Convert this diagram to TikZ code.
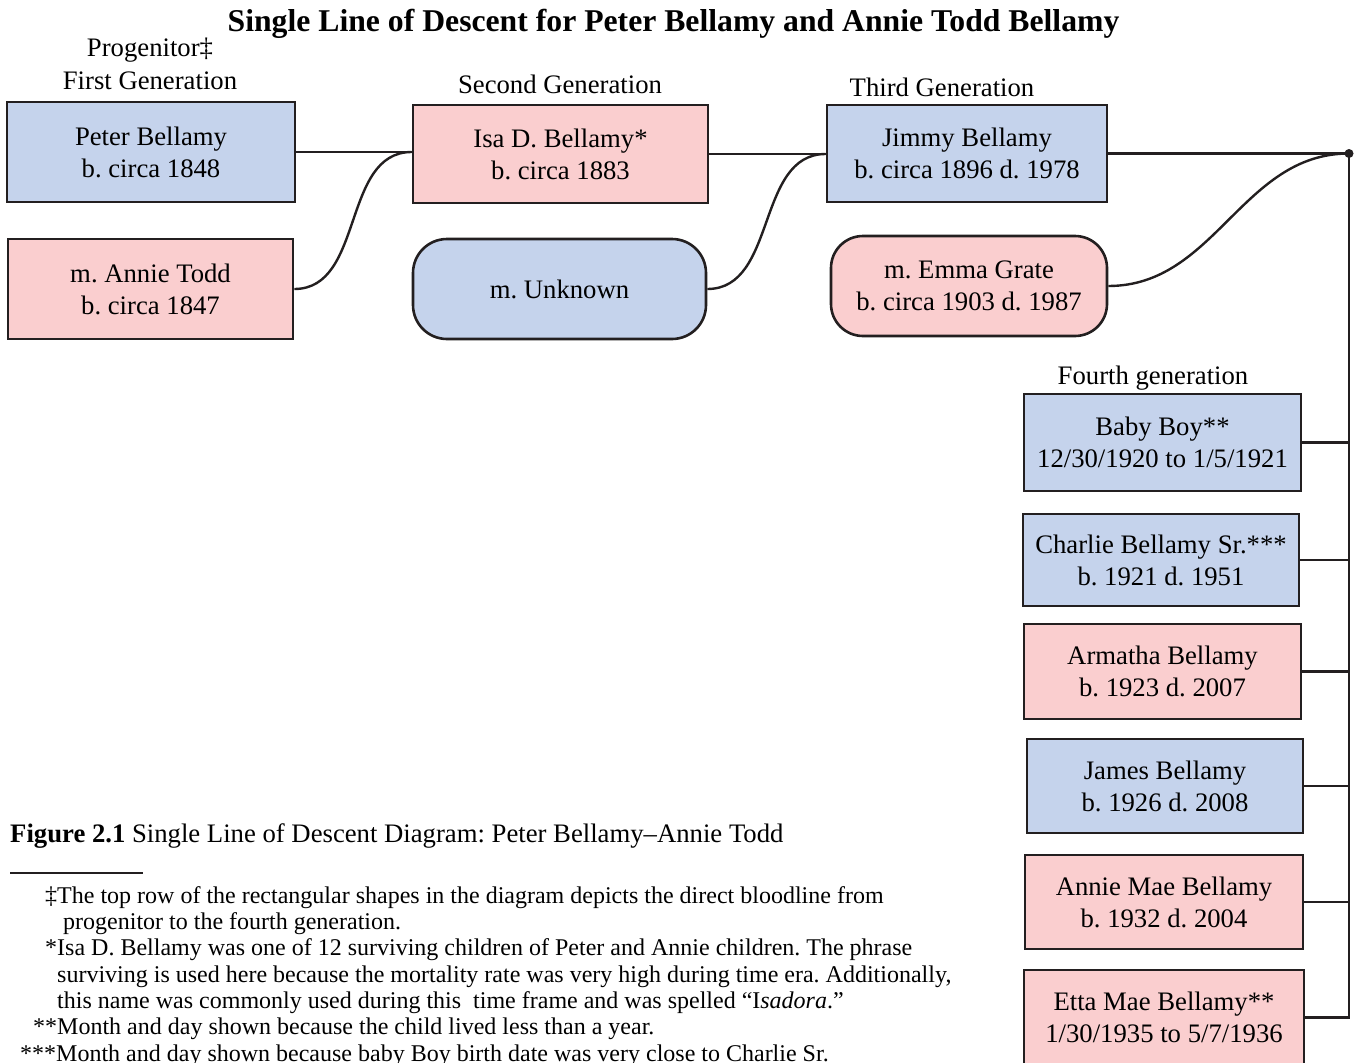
\documentclass[tikz,border=0pt]{standalone}
\usepackage{fontspec}
\setmainfont{Liberation Serif}
\definecolor{boyblue}{RGB}{197,211,236}
\definecolor{girlpink}{RGB}{250,206,207}
\definecolor{linegray}{RGB}{35,31,32}
\frenchspacing

\begin{document}
\begin{tikzpicture}[x=1pt,y=-1pt,
        person/.style={draw=linegray,line width=2.6pt,align=center,inner sep=0pt,font=\fontsize{26.7}{32}\selectfont},
        bluebox/.style={person,fill=boyblue},
        pinkbox/.style={person,fill=girlpink},
        genlabel/.style={inner sep=0pt,font=\fontsize{26.7}{32}\selectfont},
        footline/.style={anchor=base west,inner sep=0pt,font=\fontsize{24}{26}\selectfont},
        link/.style={draw=linegray,line width=2.4pt}]
    \useasboundingbox (0,0) rectangle (1355,1063);
    \node[anchor=base,inner sep=0pt,font=\fontsize{31.7}{36}\selectfont\bfseries] (title) at (673.5,31) {Single Line of Descent for Peter Bellamy and Annie Todd Bellamy};
    % generation labels
    \node[genlabel] (progen) at (150,50) {Progenitor‡};
    \node[genlabel] (gen1) at (150,81) {First Generation};
    \node[genlabel] (gen2) at (560,84) {Second Generation};
    \node[genlabel] (gen3) at (942,87) {Third Generation};
    \node[genlabel] (gen4) at (1153,378) {Fourth generation};
    % first to third generation
    \node[bluebox,minimum width=288,minimum height=100] (peter) at (151,152) {Peter Bellamy\\b. circa 1848};
    \node[pinkbox,minimum width=285,minimum height=100] (annie) at (150.5,289) {m. Annie Todd\\b. circa 1847};
    \node[pinkbox,minimum width=295,minimum height=98] (isa) at (560.5,154) {Isa D. Bellamy*\\b. circa 1883};
    \node[bluebox,rounded corners=34pt,minimum width=293,minimum height=100] (unknown) at (559.5,289) {m. Unknown};
    \node[bluebox,minimum width=280,minimum height=97] (jimmy) at (967,153.5) {Jimmy Bellamy\\b. circa 1896 d. 1978};
    \node[pinkbox,rounded corners=32pt,minimum width=276,minimum height=100] (emma) at (969,286) {m. Emma Grate\\b. circa 1903 d. 1987};
    % fourth generation
    \node[bluebox,minimum width=277,minimum height=97] (baby) at (1162.5,442.5) {Baby Boy**\\12/30/1920 to 1/5/1921};
    \node[bluebox,minimum width=276,minimum height=92] (charlie) at (1161,560) {Charlie Bellamy Sr.***\\b. 1921 d. 1951};
    \node[pinkbox,minimum width=277,minimum height=95] (armatha) at (1162.5,671.5) {Armatha Bellamy\\b. 1923 d. 2007};
    \node[bluebox,minimum width=276,minimum height=94] (james) at (1165,786) {James Bellamy\\b. 1926 d. 2008};
    \node[pinkbox,minimum width=278,minimum height=94] (anniemae) at (1164,902) {Annie Mae Bellamy\\b. 1932 d. 2004};
    \node[pinkbox,minimum width=280,minimum height=95] (etta) at (1164,1017.5) {Etta Mae Bellamy**\\1/30/1935 to 5/7/1936};
    % connectors
    \coordinate (jdot) at (1349,153.5);
    \draw[link] (peter.east) -- (isa.west |- peter.east);
    \draw[link] (annie.east) to[out=0,in=180] (isa.west |- peter.east);
    \draw[link] (isa.east) -- (jimmy.west |- isa.east);
    \draw[link] (unknown.east) to[out=0,in=180] (jimmy.west |- isa.east);
    \draw[link] (jimmy.east) -- (jdot);
    \draw[link] (emma.east) to[out=0,in=180] (jdot);
    \draw[link] (jdot) |- (etta.east);
    \foreach \kid in {baby,charlie,armatha,james,anniemae}
        \draw[link] (\kid.east) -- (\kid.east -| jdot);
    \fill[linegray] (jdot) circle (4.5pt);
    % caption and notes
    \node[anchor=base west,inner sep=0pt,font=\fontsize{26.7}{32}\selectfont] (caption) at (10,842) {\textbf{Figure 2.1} Single Line of Descent Diagram: Peter Bellamy–Annie Todd};
    \draw[linegray,line width=2pt] (10,873) -- (143,873);
    \node[footline] (note1) at (45,903) {‡The top row of the rectangular shapes in the diagram depicts the direct bloodline from};
    \node[footline] (note1b) at (63,929) {progenitor to the fourth generation.};
    \node[footline] (note2) at (45,955.5) {*Isa D. Bellamy was one of 12 surviving children of Peter and Annie children. The phrase};
    \node[footline] (note2b) at (57,982) {surviving is used here because the mortality rate was very high during time era. Additionally,};
    \node[footline] (note2c) at (57,1008) {this name was commonly used during this\ \ time frame and was spelled “I\textit{sadora}.”};
    \node[footline] (note3) at (33,1034.5) {**Month and day shown because the child lived less than a year.};
    \node[footline] (note4) at (20,1061) {***Month and day shown because baby Boy birth date was very close to Charlie Sr.};
\end{tikzpicture}
\end{document}
